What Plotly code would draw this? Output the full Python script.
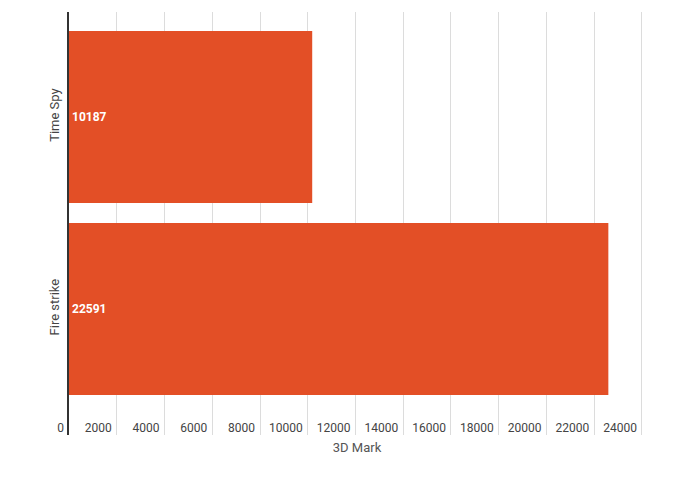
import plotly.graph_objects as go

categories = ["Fire strike", "Time Spy"]
scores = [22591, 10187]
x_ticks = [0, 2000, 4000, 6000, 8000, 10000, 12000, 14000, 16000, 18000, 20000, 22000, 24000]

fig = go.Figure(go.Bar(
    y=categories, x=scores, orientation="h",
    marker=dict(color="#E34F26", line=dict(width=0)),
    text=[str(s) for s in scores], textposition="inside", insidetextanchor="start",
    textfont=dict(family="Roboto", size=12, color="white", weight="bold"),
    width=0.896, cliponaxis=False,
))

fig.update_layout(
    width=690, height=486,
    margin=dict(l=69, r=45, t=12, b=51, autoexpand=False),
    paper_bgcolor="white", plot_bgcolor="white",
    font=dict(family="Roboto", size=12, color="#444"),
    showlegend=False,
    xaxis=dict(
        range=[0, 24126], tickvals=x_ticks, ticktext=[str(v) for v in x_ticks],
        ticklabelposition="inside left", ticklabeloverflow="allow",
        ticklabelshift=-5, ticklabelstandoff=-5,
        showgrid=True, gridcolor="#dcdcdc", gridwidth=1, zeroline=False,
        showline=False, ticks="", automargin=False,
        tickfont=dict(family="Roboto", size=12, color="#444"),
        title=dict(text="3D Mark", font=dict(family="Roboto", size=13, color="#555"), standoff=9),
    ),
    yaxis=dict(
        type="category", categoryorder="array", categoryarray=categories,
        range=[-0.656, 1.547], automargin=False,
        showline=True, linecolor="#333", linewidth=2,
        showgrid=False, zeroline=False, ticks="",
        tickangle=-90, ticklabelstandoff=3,
        tickfont=dict(family="Roboto", size=13, color="#444"),
    ),
)

fig.write_html("out.html", config={"displayModeBar": False},
               post_script="document.body.style.margin='0';")
